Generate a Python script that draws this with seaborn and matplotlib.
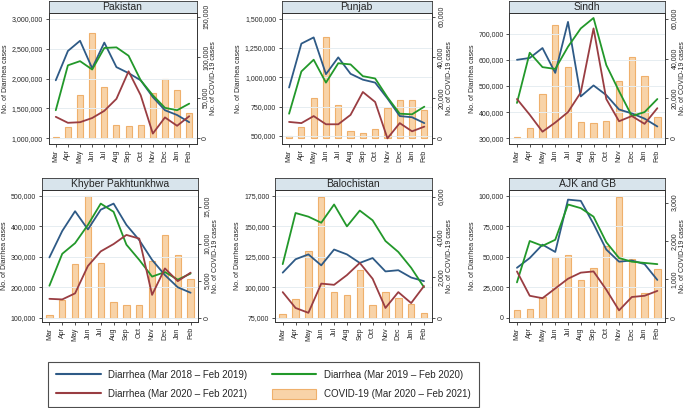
import numpy as np
import pandas as pd
import seaborn as sns
import matplotlib
matplotlib.use("Agg")
import matplotlib.pyplot as plt
from matplotlib.lines import Line2D
from matplotlib.patches import Patch
from matplotlib.ticker import FuncFormatter

months = ["Mar", "Apr", "May", "Jun", "Jul", "Aug", "Sep", "Oct", "Nov", "Dec", "Jan", "Feb"]

# Pakistan
pak_18 = [1970000, 2460000, 2630000, 2170000, 2600000, 2190000, 2090000, 1970000, 1690000, 1470000, 1390000, 1270000]
pak_19 = [1470000, 2220000, 2290000, 2150000, 2510000, 2520000, 2380000, 1970000, 1720000, 1510000, 1470000, 1580000]
pak_20 = [1360000, 1260000, 1270000, 1340000, 1460000, 1660000, 2120000, 1720000, 1080000, 1350000, 1210000, 1370000]
pak_cov = [2000, 13500, 53000, 130000, 63000, 16000, 15000, 17000, 56000, 73000, 60000, 31000]

# Punjab
pun_18 = [913000, 1287000, 1340000, 1027000, 1170000, 1030000, 980000, 955000, 820000, 670000, 660000, 610000]
pun_19 = [690000, 1050000, 1150000, 955000, 1120000, 1110000, 1010000, 990000, 830000, 690000, 685000, 750000]
pun_20 = [620000, 610000, 670000, 600000, 600000, 680000, 875000, 790000, 480000, 610000, 540000, 580000]
pun_cov = [1000, 5500, 19700, 50000, 16500, 3700, 2800, 4500, 15000, 19000, 19000, 14000]

# Sindh
sin_18 = [600000, 607000, 645000, 550000, 745000, 460000, 502000, 465000, 410000, 395000, 375000, 345000]
sin_19 = [435000, 627000, 572000, 565000, 650000, 720000, 760000, 580000, 480000, 385000, 400000, 450000]
sin_20 = [450000, 390000, 325000, 360000, 400000, 475000, 720000, 450000, 365000, 385000, 355000, 415000]
sin_cov = [700, 5300, 22000, 56700, 36000, 8200, 7700, 8500, 28700, 41000, 31500, 10800]

# Khyber Pakhtunkhwa
kp_18 = [298000, 385000, 450000, 390000, 455000, 475000, 405000, 355000, 290000, 240000, 200000, 182000]
kp_19 = [205000, 310000, 345000, 405000, 475000, 448000, 340000, 290000, 235000, 250000, 225000, 245000]
kp_20 = [162000, 160000, 180000, 270000, 318000, 342000, 372000, 360000, 175000, 262000, 220000, 248000]
kp_cov = [300, 2400, 7300, 16400, 7400, 2100, 1700, 1750, 7700, 11200, 8500, 5200]

# Balochistan
bal_18 = [112000, 123000, 127000, 118000, 131000, 127000, 120000, 124000, 113000, 114000, 108000, 105000]
bal_19 = [119000, 161000, 158000, 153000, 168000, 150000, 163000, 155000, 138000, 129000, 116000, 100000]
bal_20 = [96000, 83000, 79000, 103000, 102000, 110000, 120000, 107000, 83000, 96000, 87000, 101000]
bal_cov = [165, 910, 3300, 6000, 1270, 1120, 2360, 630, 1270, 990, 660, 230]

# AJK and GB
ajk_18 = [41000, 49000, 60000, 54000, 97000, 96000, 77000, 56000, 46000, 47000, 44000, 31000]
ajk_19 = [29000, 63000, 59000, 64000, 93000, 90000, 83000, 62000, 49000, 46000, 45000, 44000]
ajk_20 = [38000, 18000, 16000, 24000, 32000, 37000, 38000, 23000, 6000, 17000, 18000, 22000]
ajk_cov = [190, 225, 550, 1590, 1625, 975, 1305, 1870, 3160, 1520, 650, 1260]

# name, series, left ticks (lo, hi, step), right tick step, left ylim, right ylim, pixel box
panels = [
    ("Pakistan", pak_18, pak_19, pak_20, pak_cov, (1000000, 3000000, 500000), 50000,
     (906000, 3094000), (-7000, 154500), (48.5, 196.5, 13, 144)),
    ("Punjab", pun_18, pun_19, pun_20, pun_cov, (500000, 1500000, 250000), 20000,
     (432000, 1548000), (-2800, 61800), (281.7, 431.7, 13, 144)),
    ("Sindh", sin_18, sin_19, sin_20, sin_cov, (300000, 700000, 100000), 20000,
     (278000, 779000), (-2800, 62800), (509.3, 665, 13, 144)),
    ("Khyber Pakhtunkhwa", kp_18, kp_19, kp_20, kp_cov, (100000, 500000, 100000), 5000,
     (86800, 519700), (-540, 17250), (41.7, 198.3, 190, 321.7)),
    ("Balochistan", bal_18, bal_19, bal_20, bal_cov, (75000, 175000, 25000), 2000,
     (71700, 179900), (-200, 6330), (275, 431.7, 190, 321.7)),
    ("AJK and GB", ajk_18, ajk_19, ajk_20, ajk_cov, (0, 100000, 25000), 1000,
     (-3300, 104900), (-104, 3330), (509.3, 665, 190, 321.7)),
]

c18 = "#2e5a86"
c19 = "#22982a"
c20 = "#993d42"
bar_fill = "#f8d3a8"
bar_edge = "#efb06c"

sns.set_style("white")
plt.rcParams["font.family"] = ["Liberation Sans", "DejaVu Sans"]

W, H = 685, 408
fig = plt.figure(figsize=(W / 100, H / 100), dpi=100)
fmt = FuncFormatter(lambda v, p: f"{v:,.0f}")
strip_h = 12.5

for name, d18, d19, d20, cov, lt, rstep, lylim, rylim, box in panels:
    x0, x1, ytop, ybot = box
    ax = fig.add_axes([x0 / W, 1 - ybot / H, (x1 - x0) / W, (ybot - ytop) / H])
    ax2 = ax.twinx()

    sns.barplot(x=months, y=cov, ax=ax2, color=bar_fill, saturation=1,
                edgecolor=bar_edge, linewidth=0.8, width=0.5)
    pos = np.arange(len(months))
    sns.lineplot(x=pos, y=d18, ax=ax, color=c18, lw=1.3)
    sns.lineplot(x=pos, y=d19, ax=ax, color=c19, lw=1.3)
    sns.lineplot(x=pos, y=d20, ax=ax, color=c20, lw=1.3)

    ax.set_zorder(ax2.get_zorder() + 1)
    ax.patch.set_visible(False)
    ax2.patch.set_visible(True)
    ax2.patch.set_facecolor("white")

    ax.set_xlim(-0.6, 11.6)
    ax.set_ylim(*lylim)
    ax2.set_ylim(*rylim)
    ax.set_yticks(np.arange(lt[0], lt[1] + 1, lt[2]))
    ax2.set_yticks(np.arange(0, rylim[1], rstep))
    ax.yaxis.set_major_formatter(fmt)
    ax2.yaxis.set_major_formatter(fmt)
    ax.set_xticks(pos)
    ax.set_xticklabels(months, rotation=90)
    ax.set_xlabel("")
    ax2.set_xlabel("")

    ax.grid(axis="y", color="#e6edf1", lw=0.7)
    ax.set_axisbelow(True)
    ax.tick_params(axis="both", labelsize=5, length=2.5, width=0.6, pad=1.5,
                   direction="out", left=True, bottom=True, color="#333333")
    ax2.tick_params(axis="y", labelsize=5, length=2.5, width=0.6, pad=1.5,
                    direction="out", right=True, labelrotation=90, color="#333333")
    for lab in ax2.get_yticklabels():
        lab.set_va("center")
    ax.set_ylabel("No. of Diarrhea cases", fontsize=5, labelpad=2)
    ax2.set_ylabel("No. of COVID-19 cases", fontsize=5, labelpad=1, rotation=90)
    for a in (ax, ax2):
        for s in a.spines.values():
            s.set_color("#333333")
            s.set_linewidth(0.6)

    sax = fig.add_axes([x0 / W, 1 - ytop / H, (x1 - x0) / W, strip_h / H])
    sax.set_facecolor("#d8e4ec")
    sax.set_xticks([])
    sax.set_yticks([])
    for s in sax.spines.values():
        s.set_color("#333333")
        s.set_linewidth(0.6)
    sax.text(0.5, 0.48, name, ha="center", va="center", fontsize=7.5,
             transform=sax.transAxes)

handles = [
    Line2D([], [], color=c18, lw=1.5),
    Line2D([], [], color=c20, lw=1.5),
    Line2D([], [], color=c19, lw=1.5),
    Patch(facecolor=bar_fill, edgecolor=bar_edge, linewidth=0.8),
]
labels = [
    "Diarrhea (Mar 2018 \u2013 Feb 2019)",
    "Diarrhea (Mar 2020 \u2013 Feb 2021)",
    "Diarrhea (Mar 2019 \u2013 Feb 2020)",
    "COVID-19 (Mar 2020 \u2013 Feb 2021)",
]
leg = fig.legend(handles, labels, loc="lower left", ncol=2,
                 bbox_to_anchor=(48 / W, 1 - 407 / H),
                 fontsize=7, frameon=True, fancybox=False, edgecolor="#222222",
                 handlelength=4.6, handleheight=1.3, handletextpad=0.8,
                 columnspacing=2.5, borderaxespad=0, labelspacing=0.9,
                 borderpad=0.8)
leg.get_frame().set_linewidth(0.8)

fig.savefig("out.png", dpi=100)
